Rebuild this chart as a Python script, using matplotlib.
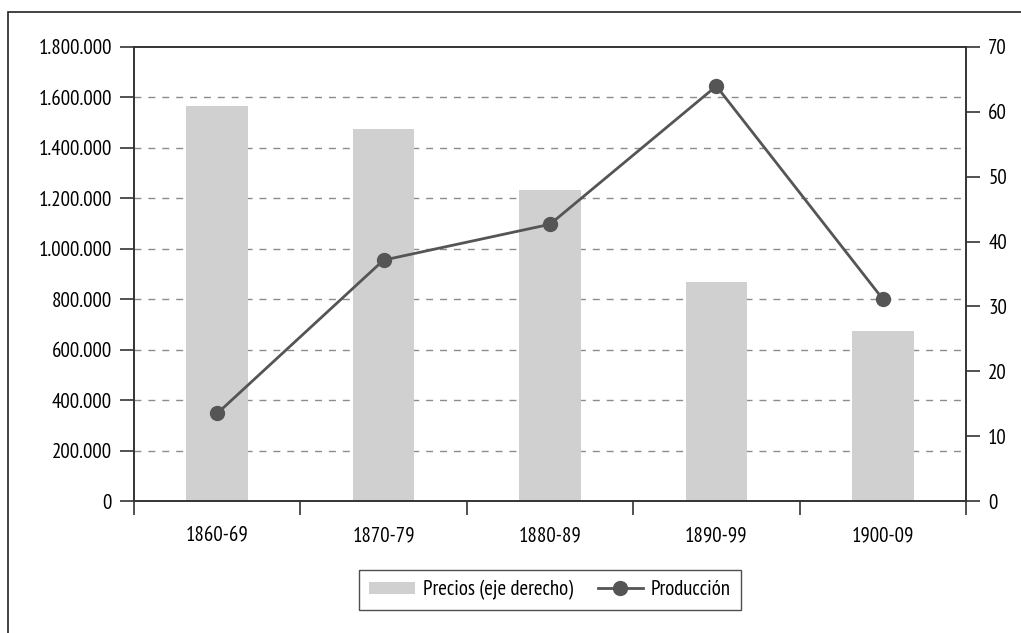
import matplotlib
matplotlib.use("Agg")
from matplotlib import pyplot as plt
from matplotlib.patches import Rectangle
from matplotlib.transforms import blended_transform_factory
from matplotlib.ticker import FuncFormatter

plt.rcParams['font.family'] = ['PT Sans Narrow', 'DejaVu Sans']
FS = 15

decadas = ['1860-69', '1870-79', '1880-89', '1890-99', '1900-09']
produccion = [347000, 955000, 1097000, 1645000, 801000]
precios = [60.9, 57.4, 47.9, 33.8, 26.2]

prod_ticks = list(range(0, 1800001, 200000))
precio_ticks = list(range(0, 71, 10))

fig = plt.figure(figsize=(10.21, 6.33), dpi=100)
ax2 = fig.add_axes([0.1312, 0.2085, 0.8149, 0.7173])
ax = ax2.twinx()
# left axis (line) on top, right axis (bars) underneath
ax2.yaxis.tick_right()
ax.yaxis.tick_left()
ax.set_zorder(ax2.get_zorder() + 1)
ax.patch.set_visible(False)

x = list(range(len(decadas)))
ax2.bar(x, precios, width=0.37, color='#d0d0d0', zorder=2, label='Precios (eje derecho)')
ax2.set_ylim(0, 70)
ax2.set_yticks(precio_ticks)

ax.plot(x, produccion, color='#555555', lw=2, marker='o', ms=10, label='Producción')
ax.set_ylim(0, 1800000)
ax.set_yticks(prod_ticks)
ax.yaxis.set_major_formatter(FuncFormatter(lambda v, p: f'{int(v):,}'.replace(',', '.')))

# dashed grid at the left-axis ticks, drawn below the bars
tr = blended_transform_factory(ax2.transAxes, ax.transData)
for v in prod_ticks[1:-1]:
    ax2.plot([0, 1], [v, v], transform=tr, color='#8c8c8c', lw=1, ls=(0, (5, 5)), zorder=1)

ax2.set_xlim(-0.5, len(decadas) - 0.5)
ax2.set_xticks([i - 0.5 for i in range(len(decadas) + 1)])
ax2.set_xticklabels([])
ax2.set_xticks(x, minor=True)
ax2.set_xticklabels(decadas, minor=True)
ax2.tick_params(axis='x', which='major', length=10, width=1.2, color='#333333', direction='out')
ax2.tick_params(axis='x', which='minor', length=0, pad=18, labelsize=FS)

for a in (ax, ax2):
    for s in a.spines.values():
        s.set_color('#333333')
        s.set_linewidth(1.2)
ax.tick_params(axis='y', length=10, width=1.2, color='#333333', labelsize=FS, pad=6)
ax2.tick_params(axis='y', length=10, width=1.2, color='#333333', labelsize=FS, pad=6)

h1, l1 = ax2.get_legend_handles_labels()
h2, l2 = ax.get_legend_handles_labels()
leg = fig.legend(h1 + h2, l1 + l2, loc='center', bbox_to_anchor=(0.5387, 0.0679),
                 ncol=2, fontsize=FS, frameon=True, fancybox=False, handlelength=2.2,
                 handleheight=0.55, handletextpad=0.35, columnspacing=1.2,
                 borderpad=0.5, borderaxespad=0)
leg.get_frame().set_edgecolor('#222222')
leg.get_frame().set_linewidth(1.0)

# outer frame, cut off at the right and bottom edges
fig.patches.append(Rectangle((0.0078, -0.2), 1.2, 1.181, transform=fig.transFigure,
                             fill=False, edgecolor='#222222', lw=1.2))

fig.savefig('out.png', dpi=100)
